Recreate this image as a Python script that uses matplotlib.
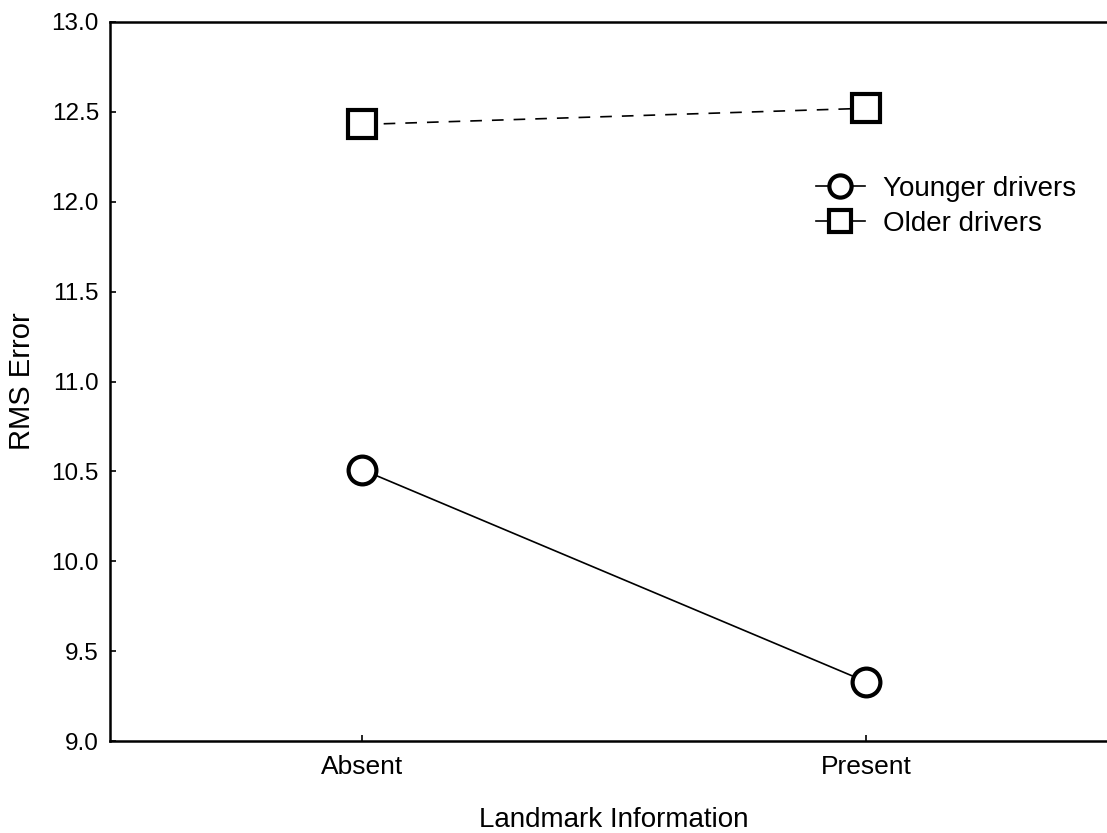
import matplotlib.pyplot as plt
from matplotlib.lines import Line2D

plt.rcParams['font.family'] = ['Liberation Sans', 'DejaVu Sans']

conditions = ["Absent", "Present"]
younger = [10.51, 9.33]
older = [12.43, 12.52]

fig = plt.figure(figsize=(11.07, 8.33), dpi=100)
# axes runs past the right edge of the figure, as in the original
ax = fig.add_axes([110 / 1107, 92 / 833, 1008 / 1107, 719 / 833])

x = list(range(len(conditions)))
ax.plot(x, younger, color='black', lw=1.2, marker='o', ms=20, mew=3,
        mfc='white', mec='black', clip_on=False)
ax.plot(x, older, color='black', lw=1.2, ls=(0, (7, 6)), marker='s', ms=20, mew=3,
        mfc='white', mec='black', clip_on=False)

ax.set_xlim(-0.5, 1.5)
ax.set_ylim(9.0, 13.0)
ax.set_xticks(x)
ax.set_xticklabels(conditions)
ax.set_yticks([9.0, 9.5, 10.0, 10.5, 11.0, 11.5, 12.0, 12.5, 13.0])
ax.set_yticklabels(["9.0", "9.5", "10.0", "10.5", "11.0", "11.5", "12.0", "12.5", "13.0"])
ax.tick_params(direction='in', length=4, width=1.2, color='black')
ax.tick_params(axis='y', pad=8, labelsize=17.5)
ax.tick_params(axis='x', pad=10, labelsize=19)

for side in ['left', 'top', 'bottom']:
    ax.spines[side].set_linewidth(1.8)
ax.spines['right'].set_visible(False)

ax.set_ylabel("RMS Error", fontsize=21, labelpad=11)
ax.set_xlabel("Landmark Information", fontsize=20, labelpad=20)

handles = [
    Line2D([], [], color='black', lw=1.2, marker='o', ms=16, mew=3, mfc='white', mec='black'),
    Line2D([], [], color='black', lw=1.2, marker='s', ms=16, mew=3, mfc='white', mec='black'),
]
fig.legend(handles, ["Younger drivers", "Older drivers"], loc='upper left',
           bbox_to_anchor=(816 / 1107, 1 - 176 / 833), frameon=False, fontsize=20,
           handlelength=1.76, handletextpad=0.65, labelspacing=0.32, borderaxespad=0,
           borderpad=0)

fig.savefig("out.png", dpi=100)
